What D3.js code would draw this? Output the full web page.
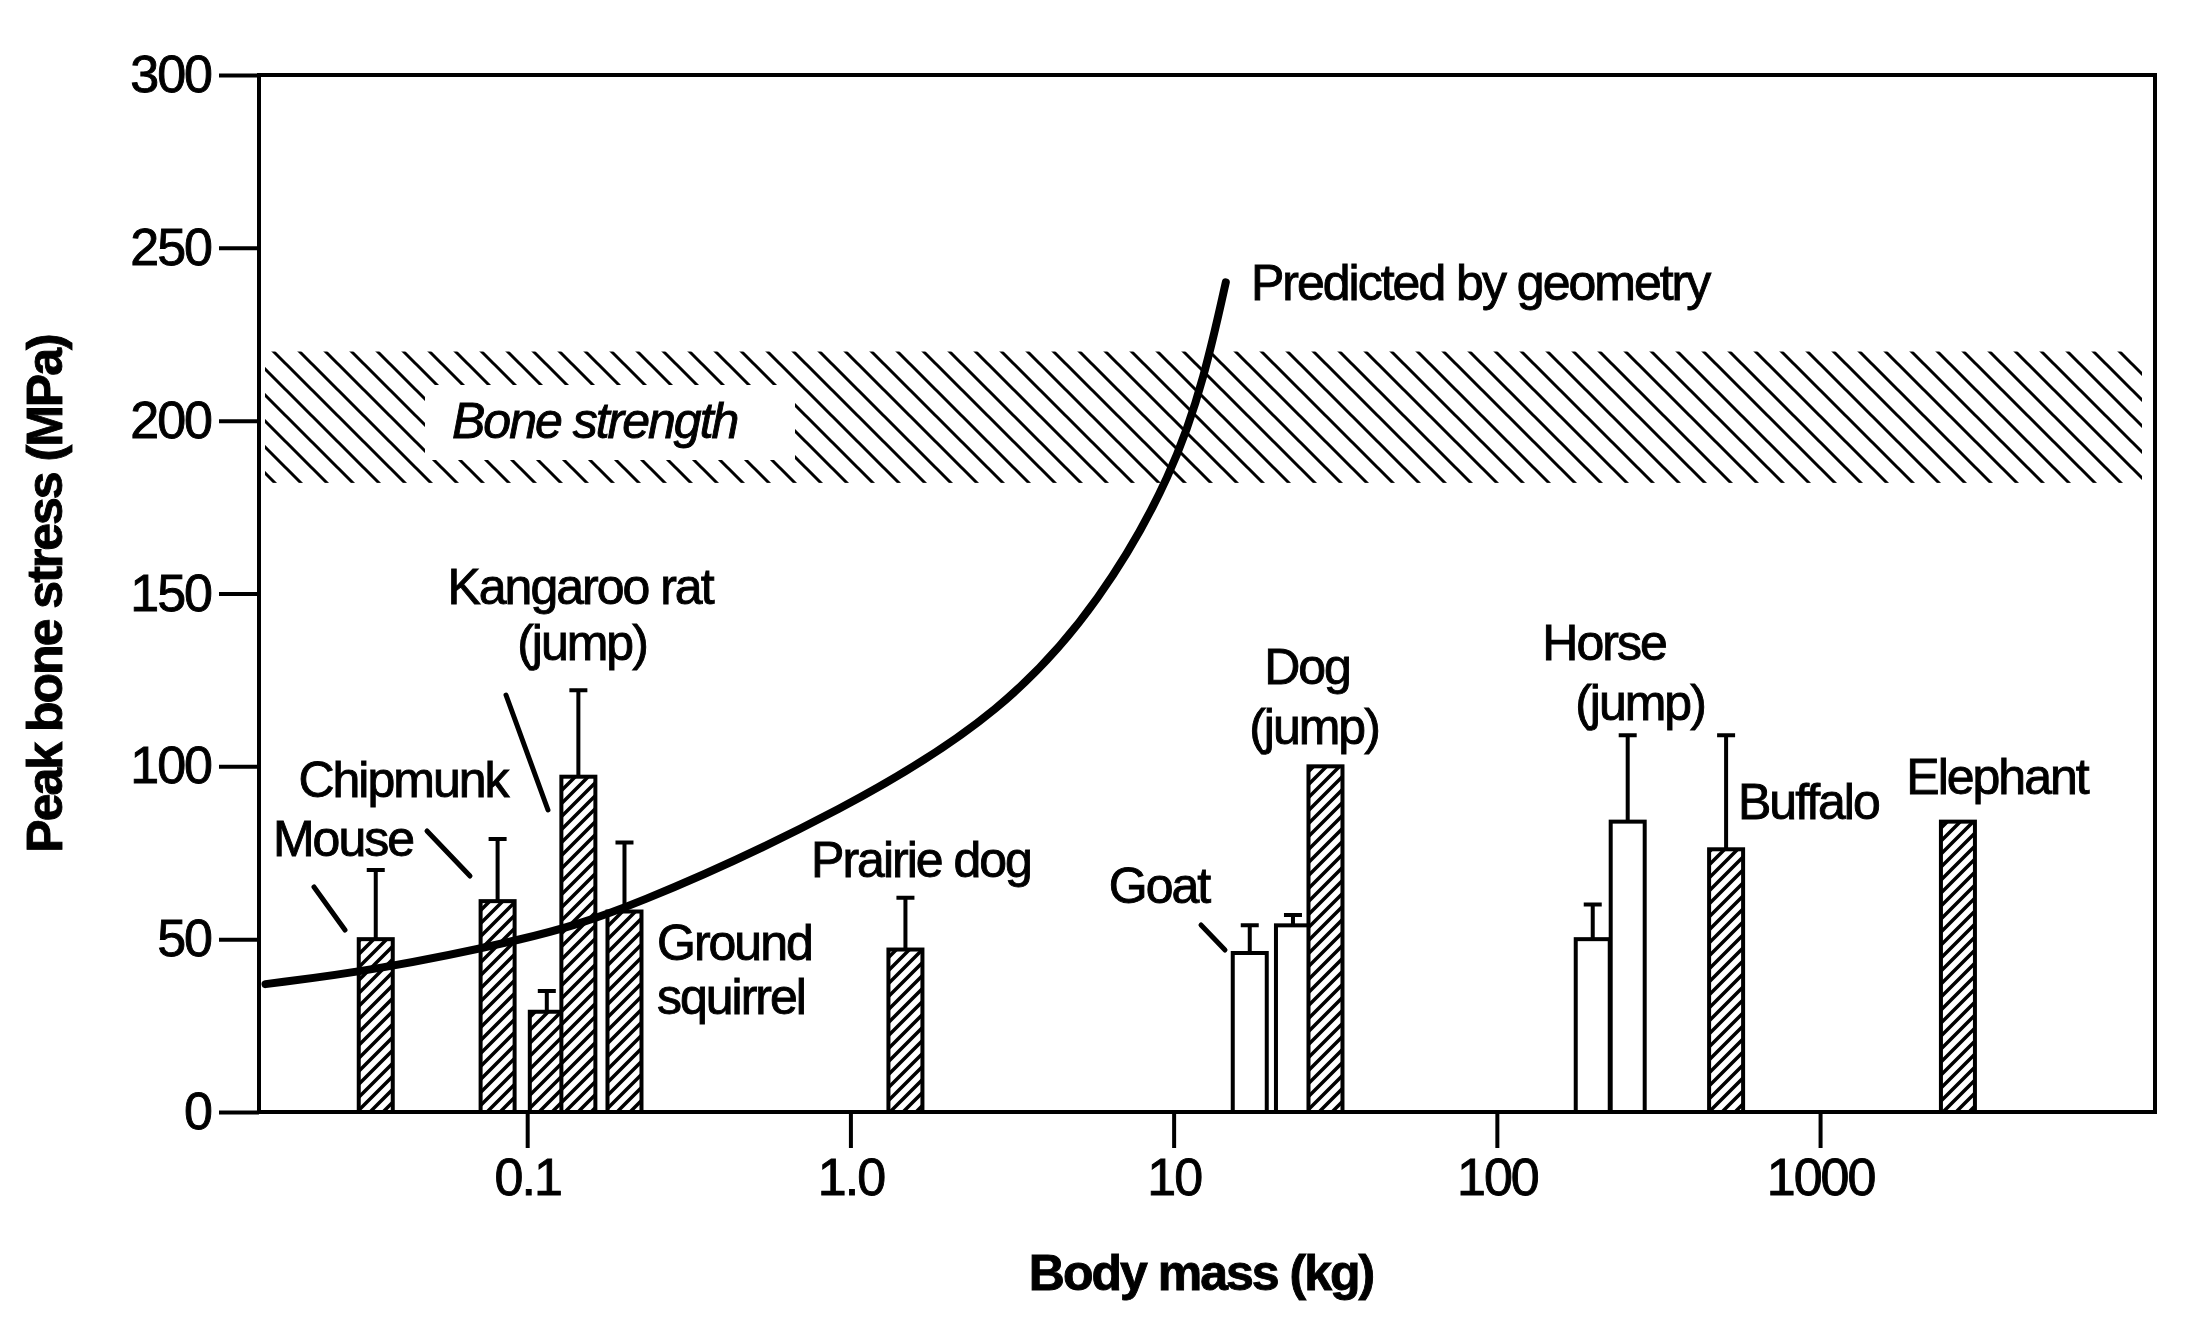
<!DOCTYPE html>
<html><head><meta charset="utf-8">
<script src="https://cdn.jsdelivr.net/npm/d3@7"></script>
<style>
body{margin:0;background:#fff}
text{font-family:"Liberation Sans",Arial,sans-serif;fill:#000;letter-spacing:-2px;stroke:#000;stroke-width:0.9px}
</style></head>
<body><div id="container"></div>
<script>
"use strict";

// data
var masses  = [0.034, 0.081, 0.115, 0.144, 0.20, 1.48, 17.2, 23.4, 29.5, 198, 254, 512, 2670];
var stress  = [50, 61, 29, 97, 58, 47, 46, 54, 100, 50, 84, 76, 84];
var errTop  = [70, 79, 35, 122, 78, 62, 54, 57, null, 60, 109, 109, null];
var hatched = [1, 1, 1, 1, 1, 1, 0, 0, 1, 0, 0, 1, 1];
var curveMass   = [0.0155, 0.034, 0.1, 0.2, 1.0, 3.0, 6.0, 10, 12.5, 14.5];
var curveStress = [37, 41, 50, 58, 88, 116, 148, 185, 213, 240];
var band = [182, 220];
var xTicks = [0.1, 1, 10, 100, 1000];
var xTickLabels = ["0.1", "1.0", "10", "100", "1000"];
var yTicks = [0, 50, 100, 150, 200, 250, 300];

var W = 2190, H = 1317;
var L = 259, R = 2155, T = 75, B = 1112;

var x = d3.scaleLog().domain([0.0148, 10870]).range([L, R]);
var y = d3.scaleLinear().domain([0, 300]).range([B, T]);

var svg = d3.select("#container").append("svg").attr("width", W).attr("height", H);
var defs = svg.append("defs");

var hp = defs.append("pattern").attr("id", "barhatch").attr("patternUnits", "userSpaceOnUse")
    .attr("width", 13).attr("height", 13);
hp.append("rect").attr("width", 13).attr("height", 13).attr("fill", "#fff");
hp.append("path").attr("d", "M-2,15 L15,-2 M-2,2 L2,-2 M11,15 L15,11").attr("stroke", "#000").attr("stroke-width", 3.5);

var bp = defs.append("pattern").attr("id", "bandhatch").attr("patternUnits", "userSpaceOnUse")
    .attr("width", 26).attr("height", 26);
bp.append("path").attr("d", "M-2,-2 L28,28 M-2,24 L2,28 M24,-2 L28,2").attr("stroke", "#000").attr("stroke-width", 3);

// bone strength band
svg.append("rect").attr("x", L + 6).attr("y", y(band[1])).attr("width", 2142 - L - 6)
    .attr("height", y(band[0]) - y(band[1])).attr("fill", "url(#bandhatch)");
svg.append("rect").attr("x", 425).attr("y", 385).attr("width", 370).attr("height", 75).attr("fill", "#fff");
svg.append("text").attr("x", 452).attr("y", 438).attr("font-size", 50).attr("font-style", "italic")
    .text("Bone strength");

// frame
svg.append("rect").attr("x", L).attr("y", T).attr("width", R - L).attr("height", B - T)
    .attr("fill", "none").attr("stroke", "#000").attr("stroke-width", 4);

// y axis
var ya = svg.append("g").attr("transform", "translate(" + L + ",0)")
    .call(d3.axisLeft(y).tickValues(yTicks).tickSize(40).tickPadding(8));
ya.select(".domain").remove();
ya.selectAll("line").attr("stroke-width", 4);
ya.selectAll("text").attr("font-size", 52).style("font-family", "'Liberation Sans',Arial,sans-serif");

// x axis
var xa = svg.append("g").attr("transform", "translate(0," + B + ")")
    .call(d3.axisBottom(x).tickValues(xTicks).tickFormat(function(d, i){ return xTickLabels[i]; })
          .tickSize(36).tickPadding(10));
xa.select(".domain").remove();
xa.selectAll("line").attr("stroke-width", 4);
xa.selectAll("text").attr("font-size", 52).style("font-family", "'Liberation Sans',Arial,sans-serif");

// axis titles
svg.append("text").attr("x", 1201).attr("y", 1290).attr("text-anchor", "middle")
    .attr("font-size", 50).attr("font-weight", "bold").text("Body mass (kg)");
svg.append("text").attr("transform", "translate(62,594) rotate(-90)").attr("text-anchor", "middle")
    .attr("font-size", 50).attr("font-weight", "bold").text("Peak bone stress (MPa)");

// bars
var bw = 34;
var bars = svg.append("g").selectAll("g").data(masses).enter().append("g");
bars.append("rect")
    .attr("x", function(d){ return x(d) - bw / 2; })
    .attr("y", function(d, i){ return y(stress[i]); })
    .attr("width", bw)
    .attr("height", function(d, i){ return B - y(stress[i]); })
    .attr("fill", function(d, i){ return hatched[i] ? "url(#barhatch)" : "#fff"; })
    .attr("stroke", "#000").attr("stroke-width", 4);
bars.filter(function(d, i){ return errTop[i] != null; }).append("path")
    .attr("d", function(d){
        var i = masses.indexOf(d), cx = x(d);
        return "M" + cx + "," + y(stress[i]) + "V" + y(errTop[i]) + "M" + (cx - 9) + "," + y(errTop[i]) + "H" + (cx + 9);
    })
    .attr("stroke", "#000").attr("stroke-width", 4).attr("fill", "none");

// geometry curve
var line = d3.line().x(function(d){ return x(d); })
    .y(function(d, i){ return y(curveStress[i]); }).curve(d3.curveBasis);
svg.append("path").attr("d", line(curveMass)).attr("fill", "none")
    .attr("stroke", "#000").attr("stroke-width", 8).attr("stroke-linecap", "round");

// labels
var labels = [
    ["Mouse", 343, 856, "middle"], ["Chipmunk", 403, 797, "middle"],
    ["Kangaroo rat", 580, 604, "middle"], ["(jump)", 582, 660, "middle"],
    ["Ground", 657, 960, "start"], ["squirrel", 657, 1014, "start"],
    ["Prairie dog", 921, 877, "middle"], ["Goat", 1159, 903, "middle"],
    ["Dog", 1307, 684, "middle"], ["(jump)", 1314, 744, "middle"],
    ["Horse", 1604, 660, "middle"], ["(jump)", 1640, 720, "middle"],
    ["Buffalo", 1738, 819, "start"], ["Elephant", 1997, 794, "middle"],
    ["Predicted by geometry", 1251, 300, "start"]
];
svg.append("g").selectAll("text").data(labels).enter().append("text")
    .attr("x", function(d){ return d[1]; }).attr("y", function(d){ return d[2]; })
    .attr("text-anchor", function(d){ return d[3]; })
    .attr("font-size", 50).text(function(d){ return d[0]; });

var leaders = [[314, 887, 345, 930], [427, 831, 470, 876], [506, 695, 548, 810], [1201, 925, 1225, 950]];
svg.append("g").selectAll("line").data(leaders).enter().append("line")
    .attr("x1", function(d){ return d[0]; }).attr("y1", function(d){ return d[1]; })
    .attr("x2", function(d){ return d[2]; }).attr("y2", function(d){ return d[3]; })
    .attr("stroke", "#000").attr("stroke-width", 5).attr("stroke-linecap", "round");
</script>
</body></html>
